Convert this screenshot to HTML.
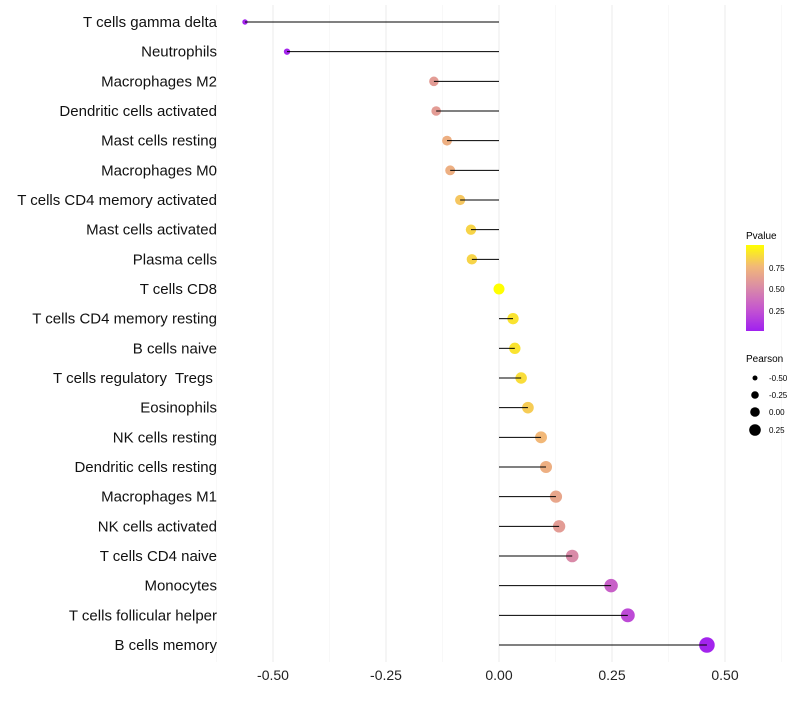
<!DOCTYPE html>
<html><head><meta charset="utf-8"><style>
body{margin:0;background:#fff}
svg{font-family:"Liberation Sans",sans-serif}
</style></head><body>
<svg id="chart" width="800" height="700">
<defs><linearGradient id="pg" x1="0" y1="1" x2="0" y2="0">
<stop offset="0" stop-color="#a020f0"/><stop offset="0.25" stop-color="#c455d0"/><stop offset="0.5" stop-color="#d98aa8"/><stop offset="0.75" stop-color="#f2b878"/><stop offset="1" stop-color="#ffff00"/></linearGradient></defs>
<g id="grid"></g>
<g id="points"></g>
<g id="marks"></g>
<g id="labels"></g>
<g id="xticks"></g>
<g>
<text x="746" y="239" font-size="10">Pvalue</text>
<rect x="746" y="245" width="18" height="86" fill="url(#pg)"/>
<text x="769" y="271" font-size="8">0.75</text>
<text x="769" y="292" font-size="8">0.50</text>
<text x="769" y="314" font-size="8">0.25</text>
</g>
<g>
<text x="746" y="362" font-size="10">Pearson</text>
<circle cx="755" cy="378" r="2.5"/><text x="769" y="381" font-size="8">-0.50</text>
<circle cx="755" cy="395" r="3.8"/><text x="769" y="398" font-size="8">-0.25</text>
<circle cx="755" cy="412" r="4.8"/><text x="769" y="415" font-size="8">0.00</text>
<circle cx="755" cy="430" r="5.8"/><text x="769" y="433" font-size="8">0.25</text>
</g>
</svg>
<script>
const categories=["T cells gamma delta","Neutrophils","Macrophages M2","Dendritic cells activated","Mast cells resting","Macrophages M0","T cells CD4 memory activated","Mast cells activated","Plasma cells","T cells CD8","T cells CD4 memory resting","B cells naive","T cells regulatory  Tregs ","Eosinophils","NK cells resting","Dendritic cells resting","Macrophages M1","NK cells activated","T cells CD4 naive","Monocytes","T cells follicular helper","B cells memory"];
const pearson=[-0.562,-0.469,-0.144,-0.139,-0.115,-0.108,-0.086,-0.062,-0.060,0.0,0.031,0.035,0.049,0.064,0.093,0.104,0.126,0.133,0.162,0.248,0.285,0.460];
const pvalues=[0.02,0.03,0.6,0.6,0.7,0.7,0.8,0.85,0.85,1.0,0.9,0.9,0.88,0.82,0.75,0.7,0.65,0.6,0.5,0.3,0.2,0.02];
const xTicks=[-0.5,-0.25,0,0.25,0.5];
const xTickLabels=["-0.50","-0.25","0.00","0.25","0.50"];
const NS="http://www.w3.org/2000/svg";
const X=v=>499+v*452;
const Y=i=>22+i*(623/21);
const R=v=>Math.max(1.8,5.5+v*5);
const stops=[[0,[160,32,240]],[0.25,[196,85,208]],[0.5,[217,138,168]],[0.75,[242,184,120]],[1,[255,255,0]]];
function col(p){for(let k=1;k<stops.length;k++){if(p<=stops[k][0]){const a=stops[k-1],b=stops[k],t=(p-a[0])/(b[0]-a[0]);return 'rgb('+a[1].map((c,j)=>Math.round(c+(b[1][j]-c)*t)).join(',')+')';}}return 'rgb(255,255,0)';}
function mk(tag,at,parent){const e=document.createElementNS(NS,tag);for(const k in at)e.setAttribute(k,at[k]);document.getElementById(parent).appendChild(e);return e;}
for(let v=-0.625;v<=0.626;v+=0.125){
 const major=Math.abs(v/0.25-Math.round(v/0.25))<1e-6;
 const g=mk('line',{x1:X(v),x2:X(v),y1:5,y2:662,stroke:major?'#ebebeb':'#f4f4f4','stroke-width':major?1:0.6},'grid');
 
 
}
xTicks.forEach((v,i)=>{
 const t=mk('text',{x:X(v),y:680,'font-size':14,'text-anchor':'middle',fill:'#222'},'xticks');
 t.textContent=xTickLabels[i];
 
 
});
categories.forEach((c,i)=>{
 const y=Y(i);
 const t=mk('text',{x:217,y:y+5,'font-size':15,'text-anchor':'end',fill:'#111',style:'white-space:pre'},'labels');
 t.textContent=c;
 
 
 const d=mk('circle',{cx:X(pearson[i]),cy:y,r:R(pearson[i]),fill:col(pvalues[i])},'points');
 
 
 const l=mk('line',{x1:X(0),x2:X(pearson[i]),y1:y,y2:y,stroke:'#000','stroke-width':1},'marks');
 
 
});
</script>
</body></html>
